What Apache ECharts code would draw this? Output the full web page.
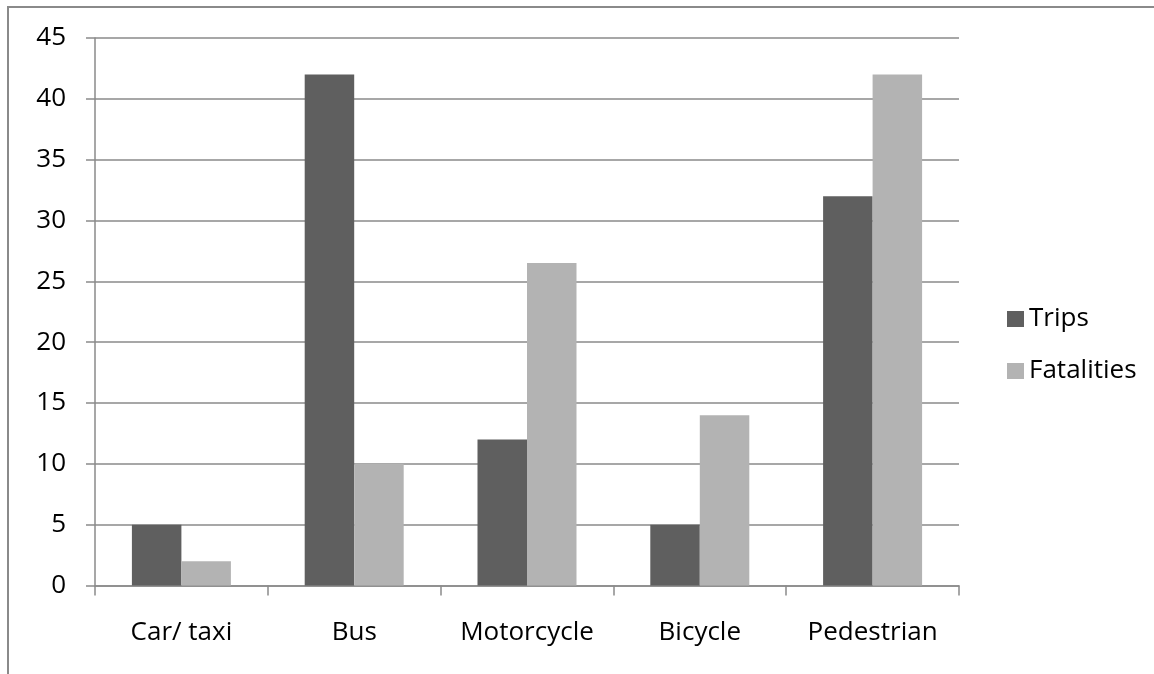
<!DOCTYPE html>
<html>
<head>
<meta charset="utf-8">
<script src="https://cdn.jsdelivr.net/npm/echarts@6/dist/echarts.min.js"></script>
<style>
  html, body { margin: 0; padding: 0; background: #fff; }
  #chart { width: 1154px; height: 674px; }
</style>
</head>
<body>
<div id="chart"></div>
<script>
// Share of trips vs share of fatalities by travel mode
const categories = ['Car/ taxi', 'Bus', 'Motorcycle', 'Bicycle', 'Pedestrian'];
const trips = [5, 42, 12, 5, 32];
const fatalities = [2, 10, 26.5, 14, 42];
const seriesNames = ['Trips', 'Fatalities'];

const FONT = '"Open Sans", sans-serif';
const GRID_COLOR = '#8a8a8a';

const chart = echarts.init(document.getElementById('chart'));
chart.setOption({
  animation: false,
  backgroundColor: '#ffffff',
  textStyle: { fontFamily: FONT },
  grid: { left: 95, top: 38, right: 195, bottom: 88.5, containLabel: false },
  legend: {
    orient: 'vertical',
    left: 1002,
    top: 301,
    itemWidth: 17,
    itemHeight: 16,
    itemGap: 26,
    icon: 'rect',
    textStyle: { fontFamily: FONT, fontSize: 26, color: '#000', padding: [0, 0, 0, 0] },
    data: seriesNames
  },
  xAxis: {
    type: 'category',
    data: categories,
    boundaryGap: true,
    axisLine: { lineStyle: { color: GRID_COLOR, width: 1.5 } },
    axisTick: { show: true, length: 10, interval: 0, lineStyle: { color: GRID_COLOR, width: 1.5 } },
    axisLabel: { interval: 0, fontFamily: FONT, fontSize: 26, color: '#000', margin: 34 }
  },
  yAxis: {
    type: 'value',
    min: 0,
    max: 45,
    interval: 5,
    axisLine: { show: true, lineStyle: { color: GRID_COLOR, width: 1.5 } },
    axisTick: { show: true, length: 9, lineStyle: { color: GRID_COLOR, width: 1.5 } },
    axisLabel: { fontFamily: FONT, fontSize: 26, color: '#000', margin: 29 },
    splitLine: { show: true, lineStyle: { color: GRID_COLOR, width: 1.5 } }
  },
  series: [
    {
      name: seriesNames[0],
      type: 'bar',
      data: trips,
      barWidth: 49.5,
      barGap: '0%',
      itemStyle: { color: '#5f5f5f' }
    },
    {
      name: seriesNames[1],
      type: 'bar',
      data: fatalities,
      barWidth: 49.5,
      barGap: '0%',
      itemStyle: { color: '#b3b3b3' }
    }
  ],
  graphic: [
    {
      type: 'polyline',
      shape: { points: [[8, 674], [8, 7], [1154, 7]] },
      style: { stroke: '#8a8a8a', lineWidth: 2, fill: null }
    }
  ]
});
</script>
</body>
</html>
